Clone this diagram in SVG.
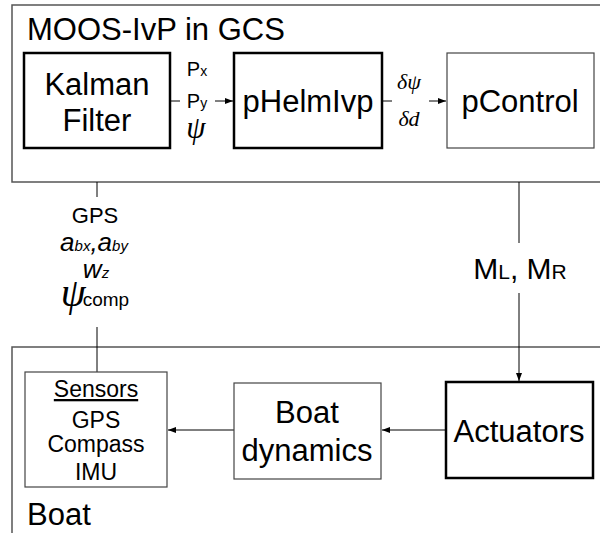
<svg xmlns="http://www.w3.org/2000/svg" width="600" height="533" viewBox="0 0 600 533">
  <defs>
    <marker id="arrow" markerWidth="8" markerHeight="6" refX="8" refY="3" orient="auto" markerUnits="userSpaceOnUse">
      <path d="M0,0 L8,3 L0,6 Z" fill="#000"/>
    </marker>
    <style>
      .container { fill: none; stroke: #555; stroke-width: 1.5; }
      .thick { fill: #fff; stroke: #000; stroke-width: 2.5; }
      .thin { fill: #fff; stroke: #444; stroke-width: 1.2; }
      .wire { fill: none; stroke: #000; stroke-width: 1; }
      .arrow { fill: none; stroke: #000; stroke-width: 1; marker-end: url(#arrow); }
      .sans { font-family: "Liberation Sans", Arial, sans-serif; fill: #000; }
      .serif { font-family: "Liberation Serif", "Times New Roman", serif; font-style: italic; fill: #000; }
      .big { font-size: 31px; }
      .mid { font-size: 23px; }
      .ctr { text-anchor: middle; }
    </style>
  </defs>

  <!-- containers -->
  <g id="gcs">
    <rect class="container" x="12" y="5" width="600" height="177"/>
    <text class="sans big" x="27" y="40">MOOS-IvP in GCS</text>
  </g>
  <g id="boat">
    <rect class="container" x="12" y="347" width="600" height="200"/>
    <text class="sans big" x="27" y="525">Boat</text>
  </g>

  <!-- connectors -->
  <g id="connectors">
    <line class="wire" x1="170" y1="101" x2="180" y2="101"/>
    <line class="arrow" x1="215" y1="101" x2="233" y2="101"/>
    <line class="wire" x1="382" y1="101" x2="392" y2="101"/>
    <line class="arrow" x1="429" y1="101" x2="446" y2="101"/>
    <line class="wire" x1="519" y1="182" x2="519" y2="243"/>
    <line class="arrow" x1="519" y1="293" x2="519" y2="381"/>
    <line class="wire" x1="97" y1="182" x2="97" y2="197"/>
    <line class="wire" x1="97" y1="327" x2="97" y2="372"/>
    <line class="arrow" x1="446" y1="430" x2="382" y2="430"/>
    <line class="arrow" x1="234" y1="430" x2="168" y2="430"/>

    <!-- signal labels -->
    <text class="sans ctr" x="197" y="76" font-size="20">P<tspan font-size="14">x</tspan></text>
    <text class="sans ctr" x="197" y="108" font-size="20">P<tspan font-size="14">y</tspan></text>
    <text class="serif ctr" x="196" y="138" font-size="31">ψ</text>
    <text class="serif ctr" x="409" y="89" font-size="22">δψ</text>
    <text class="serif ctr" x="409" y="126" font-size="22">δd</text>
    <text class="sans ctr" x="520" y="279" font-size="30">M<tspan font-size="21">L</tspan>, M<tspan font-size="21">R</tspan></text>
    <text class="sans ctr" x="95" y="223" font-size="22">GPS</text>
    <text class="sans ctr" x="94" y="251" font-size="26" font-style="italic">a<tspan font-size="15">bx</tspan>,a<tspan font-size="15">by</tspan></text>
    <text class="sans ctr" x="96" y="278" font-size="26" font-style="italic">w<tspan font-size="15">z</tspan></text>
    <text class="ctr" x="95" y="306"><tspan class="serif" font-size="40">ψ</tspan><tspan class="sans" font-size="19" dx="-3">comp</tspan></text>
  </g>

  <!-- nodes -->
  <g id="kalman">
    <rect class="thick" x="24" y="53" width="146" height="95"/>
    <text class="sans big ctr" x="97" y="95">Kalman</text>
    <text class="sans big ctr" x="97" y="131">Filter</text>
  </g>
  <g id="helm">
    <rect class="thick" x="234" y="53" width="148" height="95"/>
    <text class="sans big ctr" x="308" y="112">pHelmIvp</text>
  </g>
  <g id="pcontrol">
    <rect class="thin" x="447" y="53" width="147" height="95"/>
    <text class="sans big ctr" x="520" y="112">pControl</text>
  </g>
  <g id="sensors">
    <rect class="thin" x="25" y="372" width="142" height="115"/>
    <text class="sans mid ctr" x="96" y="397" text-decoration="underline">Sensors</text>
    <text class="sans mid ctr" x="96" y="428">GPS</text>
    <text class="sans mid ctr" x="96" y="452">Compass</text>
    <text class="sans mid ctr" x="96" y="480">IMU</text>
  </g>
  <g id="dynamics">
    <rect class="thin" x="234" y="383" width="147" height="96"/>
    <text class="sans big ctr" x="307" y="423">Boat</text>
    <text class="sans big ctr" x="307" y="461">dynamics</text>
  </g>
  <g id="actuators">
    <rect class="thick" x="446" y="382" width="147" height="96"/>
    <text class="sans big ctr" x="519" y="442">Actuators</text>
  </g>
</svg>
